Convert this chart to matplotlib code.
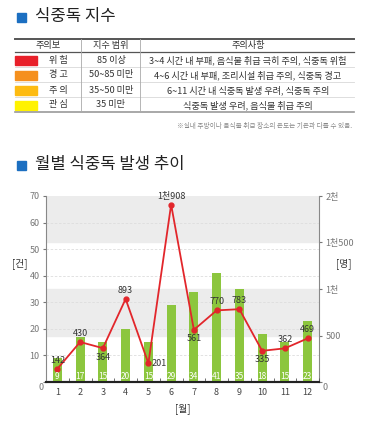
import numpy as np
import matplotlib.pyplot as plt
from matplotlib.patches import Rectangle

plt.rcParams['font.family'] = ['Noto Sans CJK KR', 'DejaVu Sans']

# 식중독 지수 표
levels = ['위 험', '경 고', '주 의', '관 심']
level_colors = ['#e8202a', '#f5901e', '#fdbb12', '#fff200']
ranges = ['85 이상', '50~85 미만', '35~50 미만', '35 미만']
notes = ['3~4 시간 내 부패, 음식물 취급 극히 주의, 식중독 위험',
         '4~6 시간 내 부패, 조리시설 취급 주의, 식중독 경고',
         '6~11 시간 내 식중독 발생 우려, 식중독 주의',
         '식중독 발생 우려, 음식물 취급 주의']
headers = ['주의보', '지수 범위', '주의사항']

# 월별 발생 추이
months = list(range(1, 13))
cases = [9, 17, 15, 20, 15, 29, 34, 41, 35, 18, 15, 23]
patients = [142, 430, 364, 893, 201, 1908, 561, 770, 783, 335, 362, 469]
patient_labels = ['142', '430', '364', '893', '201', '1천908', '561', '770', '783', '335', '362', '469']
label_pos = ['up', 'up', 'down', 'up', 'right', 'up', 'down', 'up', 'up', 'down', 'up', 'up']
left_ticks = [0, 10, 20, 30, 40, 50, 60, 70]
right_ticks = [0, 500, 1000, 1500, 2000]
right_ticklabels = ['0', '500', '1천', '1천500', '2천']

W, H = 369, 430
fig = plt.figure(figsize=(W / 100, H / 100), dpi=100)

# 배경용 픽셀 좌표 축
bg = fig.add_axes([0, 0, 1, 1])
bg.set_xlim(0, W)
bg.set_ylim(H, 0)
bg.axis('off')

blue = '#1c6fc1'
txt = '#333333'

# 제목 1
bg.add_patch(Rectangle((17, 13), 9, 9, color=blue))
bg.text(35, 17, '식중독 지수', fontsize=12, color='#222222', va='center')

# 표
x0, x1 = 14.5, 354
bg.plot([x0, x1], [38.5, 38.5], color='#555555', lw=1.4)
bg.plot([x0, x1], [52.3, 52.3], color='#555555', lw=0.9)
bg.plot([x0, x1], [112.3, 112.3], color='#999999', lw=1.2)
for y in [67.3, 82.3, 97.3]:
    bg.plot([x0, x1], [y, y], color='#d8d8d8', lw=0.6)
for x in [81, 140]:
    bg.plot([x, x], [38.5, 112.3], color='#aaaaaa', lw=0.6)

hx = [48, 111, 248]
for x, h in zip(hx, headers):
    bg.text(x, 45.5, h, fontsize=6.6, color=txt, ha='center', va='center')

for i in range(4):
    yc = 60 + i * 15
    bg.add_patch(Rectangle((14.7, yc - 4.5), 22.5, 9, color=level_colors[i]))
    bg.text(58, yc, levels[i], fontsize=6.6, color=txt, ha='center', va='center')
    bg.text(111, yc, ranges[i], fontsize=6.6, color=txt, ha='center', va='center')
    bg.text(248, yc, notes[i], fontsize=6.6, color=txt, ha='center', va='center')

bg.text(352, 126, '※실내 주방이나 음식물 취급 장소의 온도는 기온과 다를 수 있음.',
        fontsize=4.8, color='#888888', ha='right', va='center')

# 제목 2
bg.add_patch(Rectangle((17, 160.5), 9, 9, color=blue))
bg.text(35, 165, '월별 식중독 발생 추이', fontsize=12, color='#222222', va='center')

# 차트
ax = fig.add_axes([46 / W, 1 - 382 / H, (319 - 46) / W, (382 - 196) / H])
ax2 = ax.twinx()
ax.set_zorder(ax2.get_zorder() + 1)
ax.patch.set_visible(False)

scale = 70 / 2000.0
ax.set_xlim(0.52, 12.48)
ax.set_ylim(0, 70)
ax2.set_ylim(0, 2000)

# 회색 구간 (오른쪽 축 기준)
ax2.axhspan(1500, 2000, color='#ececec', zorder=0)
ax2.axhspan(500, 1000, color='#ececec', zorder=0)
for v in left_ticks[1:-1]:
    ax2.axhline(v / scale, color='#dddddd', lw=0.6, ls=(0, (3, 2)), zorder=1)

bars = ax.bar(months, cases, width=0.4, color='#8cc63e', zorder=2)
for m, c in zip(months, cases):
    ax.text(m, 2, str(c), color='white', fontsize=6, ha='center', va='center', zorder=5)

py = [p * scale for p in patients]
ax.plot(months, py, color='#e2262b', lw=1.3, marker='o', markersize=3.5, zorder=4)
for m, v, lab, pos in zip(months, py, patient_labels, label_pos):
    if pos == 'up':
        ax.text(m, v + 3.2, lab, fontsize=6.5, color=txt, ha='center', va='center', zorder=6)
    elif pos == 'down':
        ax.text(m, v - 3.4, lab, fontsize=6.5, color=txt, ha='center', va='center', zorder=6)
    else:
        ax.text(m + 0.13, v, lab, fontsize=6.5, color=txt, ha='left', va='center', zorder=6)

ax.set_xticks(months)
ax.set_xticklabels([str(m) for m in months])
ax.set_xticks(np.arange(0.5, 12.6, 1), minor=True)
ax.tick_params(axis='x', which='major', length=0, labelsize=6.5, labelcolor='#444444', pad=4)
ax.tick_params(axis='x', which='minor', length=3, direction='in', color='#555555')

# 0 눈금 글자는 축선 아래로 내려 따로 씀
ax.set_yticks(left_ticks)
ax.set_yticklabels([''] + [str(t) for t in left_ticks[1:]])
ax.tick_params(axis='y', length=2.5, labelsize=6.5, labelcolor='#777777', color='#777777', pad=2)
ax2.set_yticks(right_ticks)
ax2.set_yticklabels([''] + right_ticklabels[1:])
ax2.tick_params(axis='y', length=2.5, labelsize=6.5, labelcolor='#777777', color='#777777', pad=2)
bg.text(41, 387, '0', fontsize=6.5, color='#777777', ha='center', va='center')
bg.text(325, 387, '0', fontsize=6.5, color='#777777', ha='center', va='center')

for a in (ax, ax2):
    a.spines['top'].set_visible(False)
    a.spines['left'].set_color('#888888')
    a.spines['right'].set_color('#888888')
    a.spines['bottom'].set_color('#222222')
    a.spines['bottom'].set_linewidth(1.5)
ax2.spines['left'].set_visible(False)
ax.spines['right'].set_visible(False)

bg.text(20, 264, '[건]', fontsize=7, color=txt, ha='center', va='center')
bg.text(344, 264, '[명]', fontsize=7, color=txt, ha='center', va='center')
bg.text(183, 409, '[월]', fontsize=7, color=txt, ha='center', va='center')

fig.savefig('out.png', dpi=100)
